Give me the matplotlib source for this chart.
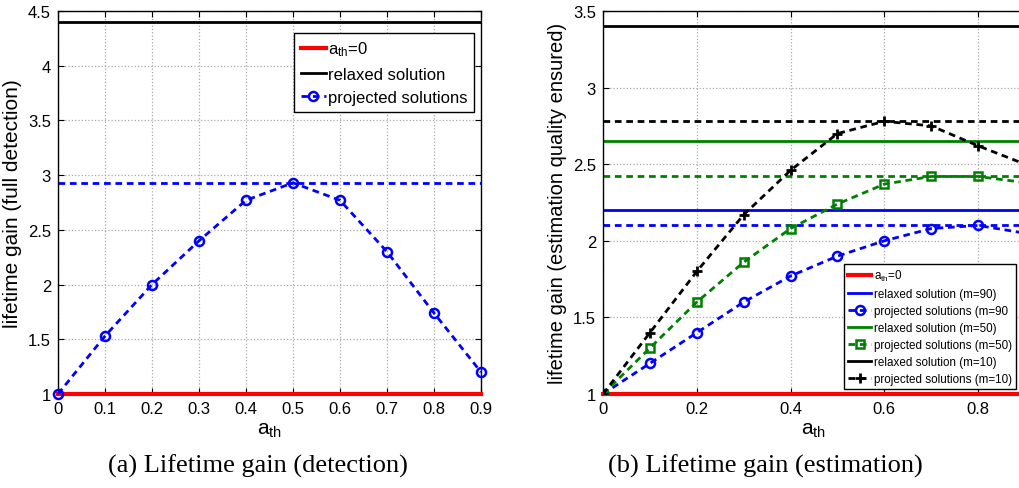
import numpy as np
import matplotlib.pyplot as plt

plt.rcParams['font.family'] = ['Liberation Sans', 'DejaVu Sans']
plt.rcParams['mathtext.fontset'] = 'custom'
plt.rcParams['mathtext.rm'] = 'Liberation Sans'
plt.rcParams['mathtext.it'] = 'Liberation Sans'
plt.rcParams['lines.dashed_pattern'] = (2.4, 1.7)

# threshold values
a_th = [0, 0.1, 0.2, 0.3, 0.4, 0.5, 0.6, 0.7, 0.8, 0.9]

# (a) detection
det_projected = [1.0, 1.53, 2.0, 2.4, 2.77, 2.93, 2.77, 2.3, 1.74, 1.2]
det_relaxed = 4.4

# (b) estimation, one series per m
est_projected_m90 = [1.0, 1.2, 1.4, 1.6, 1.77, 1.9, 2.0, 2.08, 2.1, 2.05]
est_projected_m50 = [1.0, 1.3, 1.6, 1.86, 2.08, 2.24, 2.37, 2.42, 2.42, 2.38]
est_projected_m10 = [1.0, 1.4, 1.8, 2.17, 2.46, 2.7, 2.78, 2.75, 2.62, 2.5]
est_relaxed_m90 = 2.2
est_relaxed_m50 = 2.65
est_relaxed_m10 = 3.4
baseline = 1.0

LW = 2.0
W, H = 1019, 489
fig = plt.figure(figsize=(W / 100, H / 100), dpi=100)


def px_axes(left, top, right, bottom):
    return fig.add_axes([left / W, 1 - bottom / H, (right - left) / W, (bottom - top) / H])


def style_axes(ax):
    ax.grid(True, linestyle=':', color='#a8a8a8', linewidth=0.9)
    ax.tick_params(direction='in', top=True, right=True, labelsize=12, length=4, pad=5)
    for s in ax.spines.values():
        s.set_linewidth(1.0)
        s.set_color('black')


# ---- (a) ----
ax1 = px_axes(58, 12, 481, 395)
ax1.plot(a_th, [baseline] * len(a_th), color='red', lw=3, label='a$_{th}$=0', zorder=3,
         clip_on=False)
ax1.axhline(det_relaxed, color='black', lw=LW, label='relaxed solution')
ax1.plot(a_th, det_projected, '--o', color='blue', lw=LW, ms=6.5, mfc='none', mew=1.8,
         label='projected solutions', clip_on=False, zorder=4)
ax1.axhline(max(det_projected), color='blue', ls='--', lw=LW)
ax1.set_xlim(0, 0.9)
ax1.set_ylim(1, 4.5)
ax1.set_xticks(a_th)
ax1.set_xticklabels(['0'] + ['%.1f' % v for v in a_th[1:]])
ax1.set_yticks(np.arange(1, 4.51, 0.5))
ax1.set_yticklabels(['1', '1.5', '2', '2.5', '3', '3.5', '4', '4.5'])
ax1.set_xlabel('a$_{th}$', fontsize=15, labelpad=3)
ax1.set_ylabel('lifetime gain (full detection)', fontsize=15)
style_axes(ax1)
leg1 = ax1.legend(loc='upper right', bbox_to_anchor=(0.983, 0.943), fontsize=12,
                  handlelength=1.5, handletextpad=0.1, borderaxespad=0, labelspacing=0.5,
                  fancybox=False, framealpha=1, edgecolor='black', borderpad=0.4)
leg1.get_frame().set_linewidth(1.0)

# ---- (b) ----
ax2 = px_axes(603, 12, 1025, 395)
ax2.plot(a_th, [baseline] * len(a_th), color='red', lw=3, label='a$_{th}$=0', zorder=3,
         clip_on=False)
ax2.axhline(est_relaxed_m90, color='blue', lw=LW, label='relaxed solution (m=90)')
ax2.plot(a_th, est_projected_m90, '--o', color='blue', lw=LW, ms=6.5, mfc='none', mew=1.8,
         label='projected solutions (m=90', zorder=4)
ax2.axhline(max(est_projected_m90), color='blue', ls='--', lw=LW)
ax2.axhline(est_relaxed_m50, color='#008000', lw=LW, label='relaxed solution (m=50)')
ax2.plot(a_th, est_projected_m50, '--s', color='#008000', lw=LW, ms=5.5, mfc='none', mew=1.8,
         label='projected solutions (m=50)', zorder=4)
ax2.axhline(max(est_projected_m50), color='#008000', ls='--', lw=LW)
ax2.axhline(est_relaxed_m10, color='black', lw=LW, label='relaxed solution (m=10)')
ax2.plot(a_th, est_projected_m10, '--+', color='black', lw=LW, ms=7, mew=2,
         label='projected solutions (m=10)', zorder=4)
ax2.axhline(max(est_projected_m10), color='black', ls='--', lw=LW)
ax2.set_xlim(0, 0.9)
ax2.set_ylim(1, 3.5)
ax2.set_xticks([0, 0.2, 0.4, 0.6, 0.8])
ax2.set_xticklabels(['0', '0.2', '0.4', '0.6', '0.8'])
ax2.set_yticks(np.arange(1, 3.51, 0.5))
ax2.set_yticklabels(['1', '1.5', '2', '2.5', '3', '3.5'])
ax2.set_xlabel('a$_{th}$', fontsize=15, labelpad=3)
ax2.set_ylabel('lifetime gain (estimation quality ensured)', fontsize=14.5)
style_axes(ax2)
leg2 = ax2.legend(loc='upper left', bbox_to_anchor=((844 - 603) / 422, (395 - 265) / 383),
                  fontsize=8.4, handlelength=2.0, handletextpad=0.2, borderaxespad=0,
                  labelspacing=0.42, fancybox=False, framealpha=1, edgecolor='black',
                  borderpad=0.35)
leg2.get_frame().set_linewidth(1.0)

# captions
fig.text(258 / W, 1 - 466 / H, '(a) Lifetime gain (detection)', family='Liberation Serif',
         fontsize=19, ha='center', va='center')
fig.text(765 / W, 1 - 466 / H, '(b) Lifetime gain (estimation)', family='Liberation Serif',
         fontsize=19, ha='center', va='center')

fig.savefig('out.png', dpi=100)
